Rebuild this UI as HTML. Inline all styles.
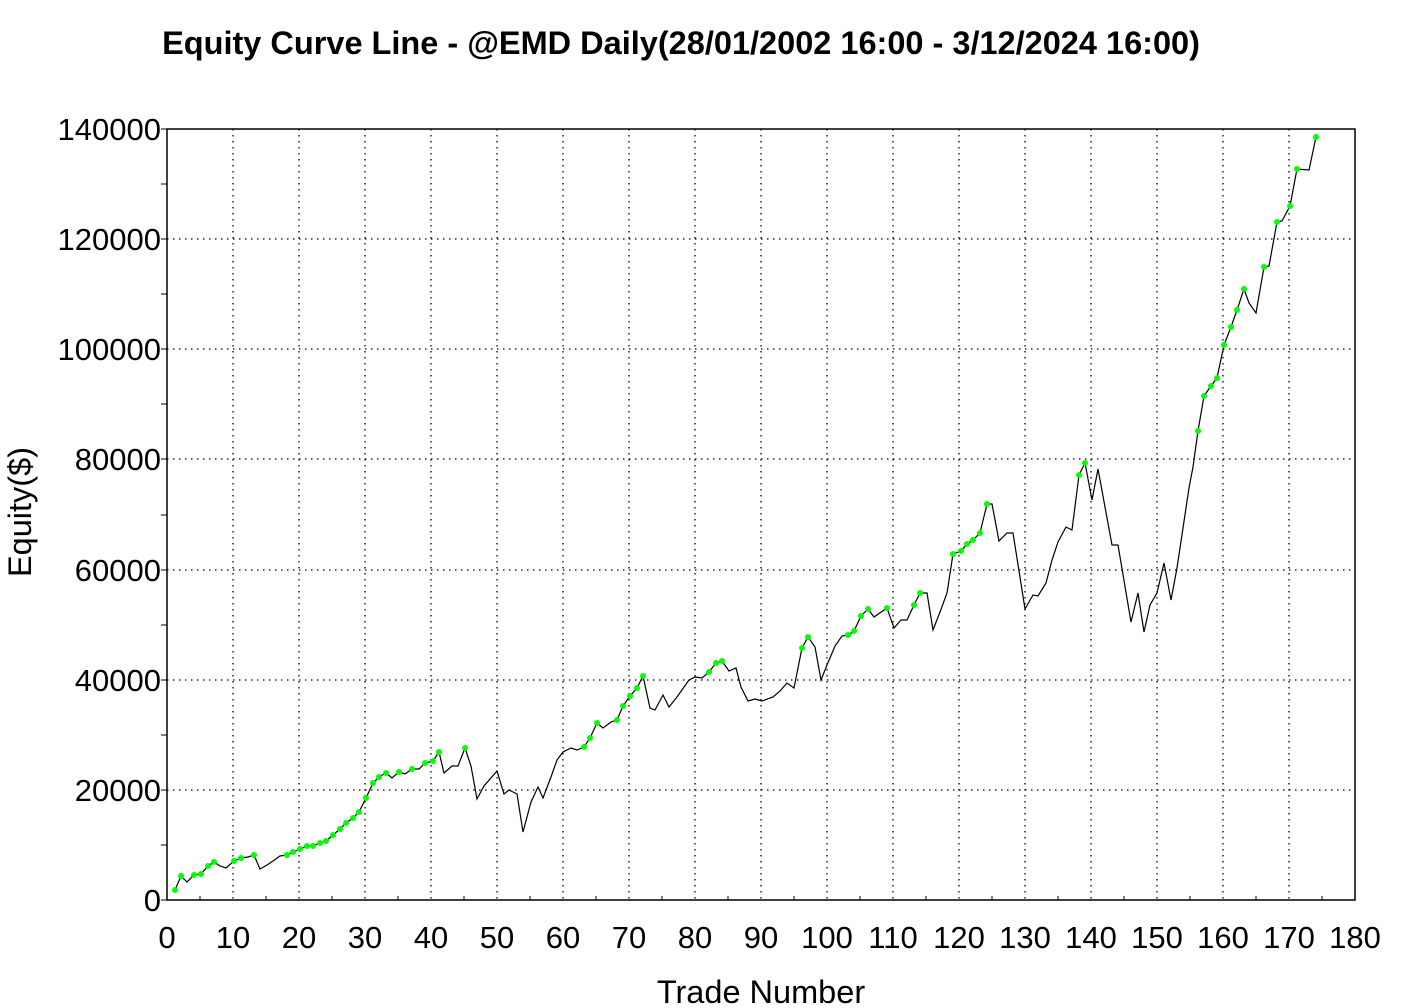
<!DOCTYPE html>
<html><head><meta charset="utf-8"><style>body{margin:0;background:#fff}svg{display:block}</style></head><body>
<svg width="1413" height="1008" xmlns="http://www.w3.org/2000/svg" font-family="Liberation Sans, Arial, sans-serif">
<rect width="1413" height="1008" fill="#fff"/>
<text x="681" y="54" font-size="32.5" font-weight="bold" text-anchor="middle">Equity Curve Line - @EMD Daily(28/01/2002 16:00 - 3/12/2024 16:00)</text>
<g stroke="#000" stroke-width="1.3" stroke-dasharray="1.5,4.5">
<line x1="233" y1="129" x2="233" y2="900"/><line x1="299" y1="129" x2="299" y2="900"/><line x1="365" y1="129" x2="365" y2="900"/><line x1="431" y1="129" x2="431" y2="900"/><line x1="497" y1="129" x2="497" y2="900"/><line x1="563" y1="129" x2="563" y2="900"/><line x1="629" y1="129" x2="629" y2="900"/><line x1="695" y1="129" x2="695" y2="900"/><line x1="761" y1="129" x2="761" y2="900"/><line x1="827" y1="129" x2="827" y2="900"/><line x1="893" y1="129" x2="893" y2="900"/><line x1="959" y1="129" x2="959" y2="900"/><line x1="1025" y1="129" x2="1025" y2="900"/><line x1="1091" y1="129" x2="1091" y2="900"/><line x1="1157" y1="129" x2="1157" y2="900"/><line x1="1223" y1="129" x2="1223" y2="900"/><line x1="1289" y1="129" x2="1289" y2="900"/>
<line x1="167" y1="790" x2="1355" y2="790"/><line x1="167" y1="680" x2="1355" y2="680"/><line x1="167" y1="570" x2="1355" y2="570"/><line x1="167" y1="459" x2="1355" y2="459"/><line x1="167" y1="349" x2="1355" y2="349"/><line x1="167" y1="239" x2="1355" y2="239"/>
</g>
<rect x="167" y="129" width="1188" height="771" fill="none" stroke="#000" stroke-width="1.5"/>
<g stroke="#000" stroke-width="1">
<line x1="161" y1="900" x2="167" y2="900"/><line x1="161" y1="845" x2="167" y2="845"/><line x1="161" y1="790" x2="167" y2="790"/><line x1="161" y1="735" x2="167" y2="735"/><line x1="161" y1="680" x2="167" y2="680"/><line x1="161" y1="625" x2="167" y2="625"/><line x1="161" y1="570" x2="167" y2="570"/><line x1="161" y1="515" x2="167" y2="515"/><line x1="161" y1="459" x2="167" y2="459"/><line x1="161" y1="404" x2="167" y2="404"/><line x1="161" y1="349" x2="167" y2="349"/><line x1="161" y1="294" x2="167" y2="294"/><line x1="161" y1="239" x2="167" y2="239"/><line x1="161" y1="184" x2="167" y2="184"/><line x1="161" y1="129" x2="167" y2="129"/>
</g>
<g font-size="31" text-anchor="end">
<text x="161" y="911">0</text><text x="161" y="801">20000</text><text x="161" y="691">40000</text><text x="161" y="581">60000</text><text x="161" y="470">80000</text><text x="161" y="360">100000</text><text x="161" y="250">120000</text><text x="161" y="140">140000</text>
</g>
<g font-size="31" text-anchor="middle">
<text x="167" y="948">0</text><text x="233" y="948">10</text><text x="299" y="948">20</text><text x="365" y="948">30</text><text x="431" y="948">40</text><text x="497" y="948">50</text><text x="563" y="948">60</text><text x="629" y="948">70</text><text x="695" y="948">80</text><text x="761" y="948">90</text><text x="827" y="948">100</text><text x="893" y="948">110</text><text x="959" y="948">120</text><text x="1025" y="948">130</text><text x="1091" y="948">140</text><text x="1157" y="948">150</text><text x="1223" y="948">160</text><text x="1289" y="948">170</text><text x="1355" y="948">180</text>
</g>
<text x="761" y="1003" font-size="32.5" text-anchor="middle">Trade Number</text>
<text transform="translate(31,512) rotate(-90)" font-size="32.5" text-anchor="middle">Equity($)</text>
<polyline fill="none" stroke="#000" stroke-width="1.2" points="175,890 181,876 187,882 194,875 201,874 208,866 214,862 220,866 226,868 234,861 241,858 248,857 254,855 260,869 267,865 273,861 280,856 287,855 293,852 300,849 307,846 313,846 320,843 326,841 333,835 340,829 346,823 353,818 359,812 366,798 373,783 379,777 386,773 392,778 399,772 405,774 412,769 419,769 425,763 433,761 439,752 444,773 452,766 458,766 465,748 471,766 477,799 484,786 497,771 504,794 509,790 517,794 523,832 531,802 538,787 543,798 551,777 557,760 563,752 571,748 577,750 584,747 590,738 597,723 603,728 611,722 617,720 623,706 630,696 637,688 643,676 650,708 655,710 663,695 669,707 677,697 689,680 695,677 702,678 709,672 716,663 722,661 729,671 736,668 741,687 748,701 755,699 762,701 773,697 780,691 787,683 794,688 802,648 808,637 815,647 821,680 827,665 835,646 842,636 848,635 854,631 861,616 868,609 874,617 887,608 894,628 901,620 907,620 914,605 920,593 927,593 933,630 940,612 947,593 953,554 961,551 967,544 973,540 980,533 987,504 992,504 999,541 1007,533 1013,533 1025,609 1033,595 1038,596 1046,583 1052,560 1058,542 1066,527 1072,530 1079,475 1085,463 1092,500 1098,469 1112,545 1118,545 1131,622 1138,593 1144,632 1150,605 1157,593 1164,563 1171,600 1177,568 1189,488 1193,467 1198,431 1204,396 1211,386 1217,378 1224,345 1231,327 1237,310 1244,289 1249,303 1256,313 1264,267 1269,266 1277,222 1282,221 1290,206 1297,169 1309,170 1316,137"/>
<g fill="#00ff00">
<circle cx="175" cy="890" r="3"/><circle cx="181" cy="876" r="3"/><circle cx="194" cy="875" r="3"/><circle cx="201" cy="874" r="3"/><circle cx="208" cy="866" r="3"/><circle cx="214" cy="862" r="3"/><circle cx="234" cy="861" r="3"/><circle cx="241" cy="858" r="3"/><circle cx="254" cy="855" r="3"/><circle cx="287" cy="855" r="3"/><circle cx="293" cy="852" r="3"/><circle cx="300" cy="849" r="3"/><circle cx="307" cy="846" r="3"/><circle cx="313" cy="846" r="3"/><circle cx="320" cy="843" r="3"/><circle cx="326" cy="841" r="3"/><circle cx="333" cy="835" r="3"/><circle cx="340" cy="829" r="3"/><circle cx="346" cy="823" r="3"/><circle cx="353" cy="818" r="3"/><circle cx="359" cy="812" r="3"/><circle cx="366" cy="798" r="3"/><circle cx="373" cy="783" r="3"/><circle cx="379" cy="777" r="3"/><circle cx="386" cy="773" r="3"/><circle cx="399" cy="772" r="3"/><circle cx="412" cy="769" r="3"/><circle cx="425" cy="763" r="3"/><circle cx="433" cy="761" r="3"/><circle cx="439" cy="752" r="3"/><circle cx="465" cy="748" r="3"/>
<circle cx="584" cy="747" r="3"/><circle cx="590" cy="738" r="3"/><circle cx="597" cy="723" r="3"/><circle cx="617" cy="720" r="3"/><circle cx="623" cy="706" r="3"/><circle cx="630" cy="696" r="3"/><circle cx="637" cy="688" r="3"/><circle cx="643" cy="676" r="3"/><circle cx="709" cy="672" r="3"/><circle cx="716" cy="663" r="3"/><circle cx="722" cy="661" r="3"/><circle cx="802" cy="648" r="3"/><circle cx="808" cy="637" r="3"/><circle cx="848" cy="635" r="3"/><circle cx="854" cy="631" r="3"/><circle cx="861" cy="616" r="3"/><circle cx="868" cy="609" r="3"/><circle cx="887" cy="608" r="3"/><circle cx="914" cy="605" r="3"/><circle cx="920" cy="593" r="3"/>
<circle cx="953" cy="554" r="3"/><circle cx="961" cy="551" r="3"/><circle cx="967" cy="544" r="3"/><circle cx="973" cy="540" r="3"/><circle cx="980" cy="533" r="3"/><circle cx="987" cy="504" r="3"/><circle cx="1079" cy="475" r="3"/><circle cx="1085" cy="463" r="3"/>
<circle cx="1198" cy="431" r="3"/><circle cx="1204" cy="396" r="3"/><circle cx="1211" cy="386" r="3"/><circle cx="1217" cy="378" r="3"/><circle cx="1224" cy="345" r="3"/><circle cx="1231" cy="327" r="3"/><circle cx="1237" cy="310" r="3"/><circle cx="1244" cy="289" r="3"/><circle cx="1264" cy="267" r="3"/><circle cx="1277" cy="222" r="3"/><circle cx="1290" cy="206" r="3"/><circle cx="1297" cy="169" r="3"/><circle cx="1316" cy="137" r="3"/>
</g>
<g stroke="#000" stroke-width="1">
<line x1="200" y1="896" x2="200" y2="900"/><line x1="266" y1="896" x2="266" y2="900"/><line x1="332" y1="896" x2="332" y2="900"/><line x1="398" y1="896" x2="398" y2="900"/><line x1="464" y1="896" x2="464" y2="900"/><line x1="530" y1="896" x2="530" y2="900"/><line x1="596" y1="896" x2="596" y2="900"/><line x1="662" y1="896" x2="662" y2="900"/><line x1="728" y1="896" x2="728" y2="900"/><line x1="794" y1="896" x2="794" y2="900"/><line x1="860" y1="896" x2="860" y2="900"/><line x1="926" y1="896" x2="926" y2="900"/><line x1="992" y1="896" x2="992" y2="900"/><line x1="1058" y1="896" x2="1058" y2="900"/><line x1="1124" y1="896" x2="1124" y2="900"/><line x1="1190" y1="896" x2="1190" y2="900"/><line x1="1256" y1="896" x2="1256" y2="900"/><line x1="1322" y1="896" x2="1322" y2="900"/>
</g>
</svg>
</body></html>
